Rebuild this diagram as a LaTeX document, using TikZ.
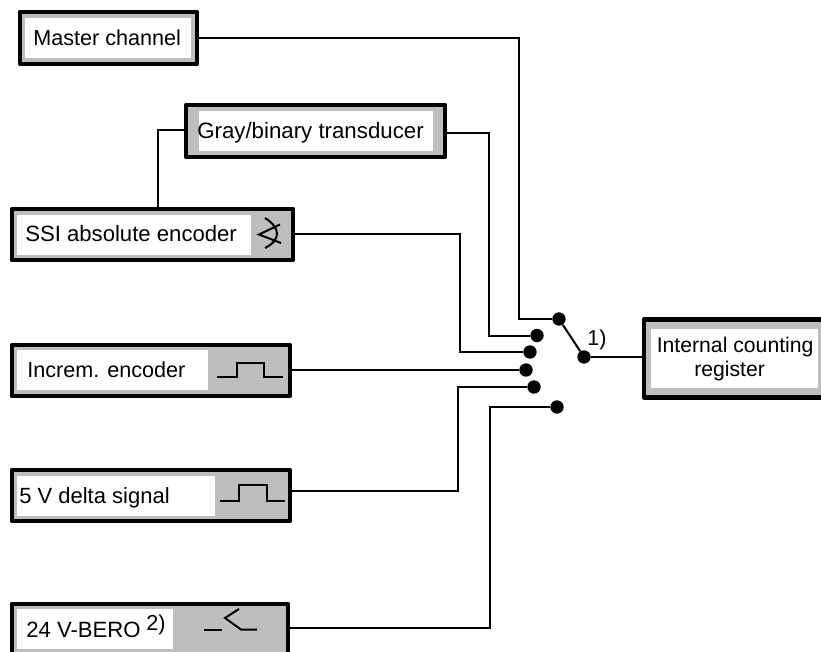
\documentclass[tikz,border=0pt]{standalone}
\usepackage{fontspec}
\setmainfont{Liberation Sans}
\definecolor{boxgray}{HTML}{BEBEBE}
\tikzset{
  outerbox/.style={draw=black,fill=boxgray,line width=3.2pt,rectangle,inner sep=0pt,line join=round},
  innerbox/.style={fill=white,rectangle,inner sep=0pt},
  lab/.style={anchor=base west,font=\fontsize{#1pt}{19pt}\selectfont,inner sep=0pt},
  lab/.default=16.2,
  wire/.style={line width=1.5pt,line join=miter},
  dot/.style={circle,fill=black,inner sep=0pt,minimum size=10pt},
  sym/.style={line width=1.5pt}
}
\newcommand{\bbox}[6]{% name, x1,y1,x2,y2 (stroke centre)
  \node[outerbox,minimum width=#4*0.75pt-#2*0.75pt,minimum height=#5*0.75pt-#3*0.75pt] (#1) at ({(#2+#4)/2},{(#3+#5)/2}) {};
}
\begin{document}
\begin{tikzpicture}[x=0.75pt,y=-0.75pt]
\useasboundingbox (0,0) rectangle (821,652);
\clip (0,0) rectangle (821,652);
% outer boxes
\bbox{master}{20}{12}{197}{64}{}
\bbox{gray}{186}{105}{445}{157}{}
\bbox{ssi}{12}{209}{293}{260}{}
\bbox{inc}{12}{345}{290}{396}{}
\bbox{delta}{12}{470}{290}{521}{}
\bbox{bero}{12}{604}{288}{662}{}
\bbox{reg}{644}{319.5}{835}{397.5}{}
% inner boxes with text
\node[innerbox,minimum width=166*0.75pt,minimum height=40*0.75pt] (masterT) at (108,38.5) {};
\node[lab] (masterL) at (33,46) {Master channel};
\node[innerbox,minimum width=234*0.75pt,minimum height=40*0.75pt] (grayT) at (316,131) {};
\node[lab=16.7] (grayL) at (197,139) {Gray/binary transducer};
\node[innerbox,minimum width=234*0.75pt,minimum height=40*0.75pt] (ssiT) at (134,235) {};
\node[lab=16.6] (ssiL) at (25,242) {SSI absolute encoder};
\node[innerbox,minimum width=191*0.75pt,minimum height=40*0.75pt] (incT) at (112.5,370) {};
\node[lab] (incL) at (27,377) {Increm. encoder};
\node[innerbox,minimum width=198*0.75pt,minimum height=40*0.75pt] (deltaT) at (116,496) {};
\node[lab=16.5] (deltaL) at (19,503) {5 V delta signal};
\node[innerbox,minimum width=156*0.75pt,minimum height=40*0.75pt] (beroT) at (95,629) {};
\node[lab=16.6] (beroL) at (26,637) {24 V-BERO};
\node[lab] (beroS) at (146,630) {2)};
\node[innerbox,minimum width=167*0.75pt,minimum height=59*0.75pt] (regT) at (734.5,358.5) {};
\node[lab=15.9] (regL) at (656.5,352) {Internal counting};
\node[lab=15.9] (regM) at (694,376) {register};
% switch contacts
\node[dot] (d1) at (559,319) {};
\node[dot] (d2) at (537,335.5) {};
\node[dot] (d3) at (530,352) {};
\node[dot] (d4) at (526,370) {};
\node[dot] (d5) at (534,387) {};
\node[dot] (d6) at (557,407) {};
\node[dot] (sw) at (584,357) {};
\node[lab] (swL) at (587,345) {1)};
% via coordinates
\coordinate (v1) at (519,38);
\coordinate (v2) at (489,133);
\coordinate (v3) at (459.5,234);
\coordinate (v5) at (458,491);
\coordinate (v6) at (490,628);
\coordinate (v7) at (157.5,130);
% connectors
\draw[wire] (master.east |- v1) -- (v1) -- (v1 |- d1) -- (d1);
\draw[wire] (gray.east |- v2) -- (v2) -- (v2 |- d2) -- (d2);
\draw[wire] (ssi.east |- v3) -- (v3) -- (v3 |- d3) -- (d3);
\draw[wire] (inc.east |- d4) -- (d4);
\draw[wire] (delta.east |- v5) -- (v5) -- (v5 |- d5) -- (d5);
\draw[wire] (bero.east |- v6) -- (v6) -- (v6 |- d6) -- (d6);
\draw[wire] (gray.west |- v7) -- (v7) -- (v7 |- ssi.north);
\draw[wire] (d1) -- (sw);
\draw[wire] (sw) -- (reg.west |- sw);
% symbols
\draw[sym,line join=miter] (280,224.5) -- (259,234.5) -- (281,243);
\draw[sym] (265,218) .. controls (281,228) and (281,240) .. (265,248);
\draw[sym] (217,377) -- (237,377) -- (237,363) -- (264,363) -- (264,377) -- (283,377);
\draw[sym] (220,501) -- (239,501) -- (239,485) -- (267,485) -- (267,501) -- (285,501);
\draw[sym] (204,630) -- (222,630);
\draw[sym] (239,609) -- (225,618) -- (241,629.5) -- (257,629.5);
\end{tikzpicture}
\end{document}
